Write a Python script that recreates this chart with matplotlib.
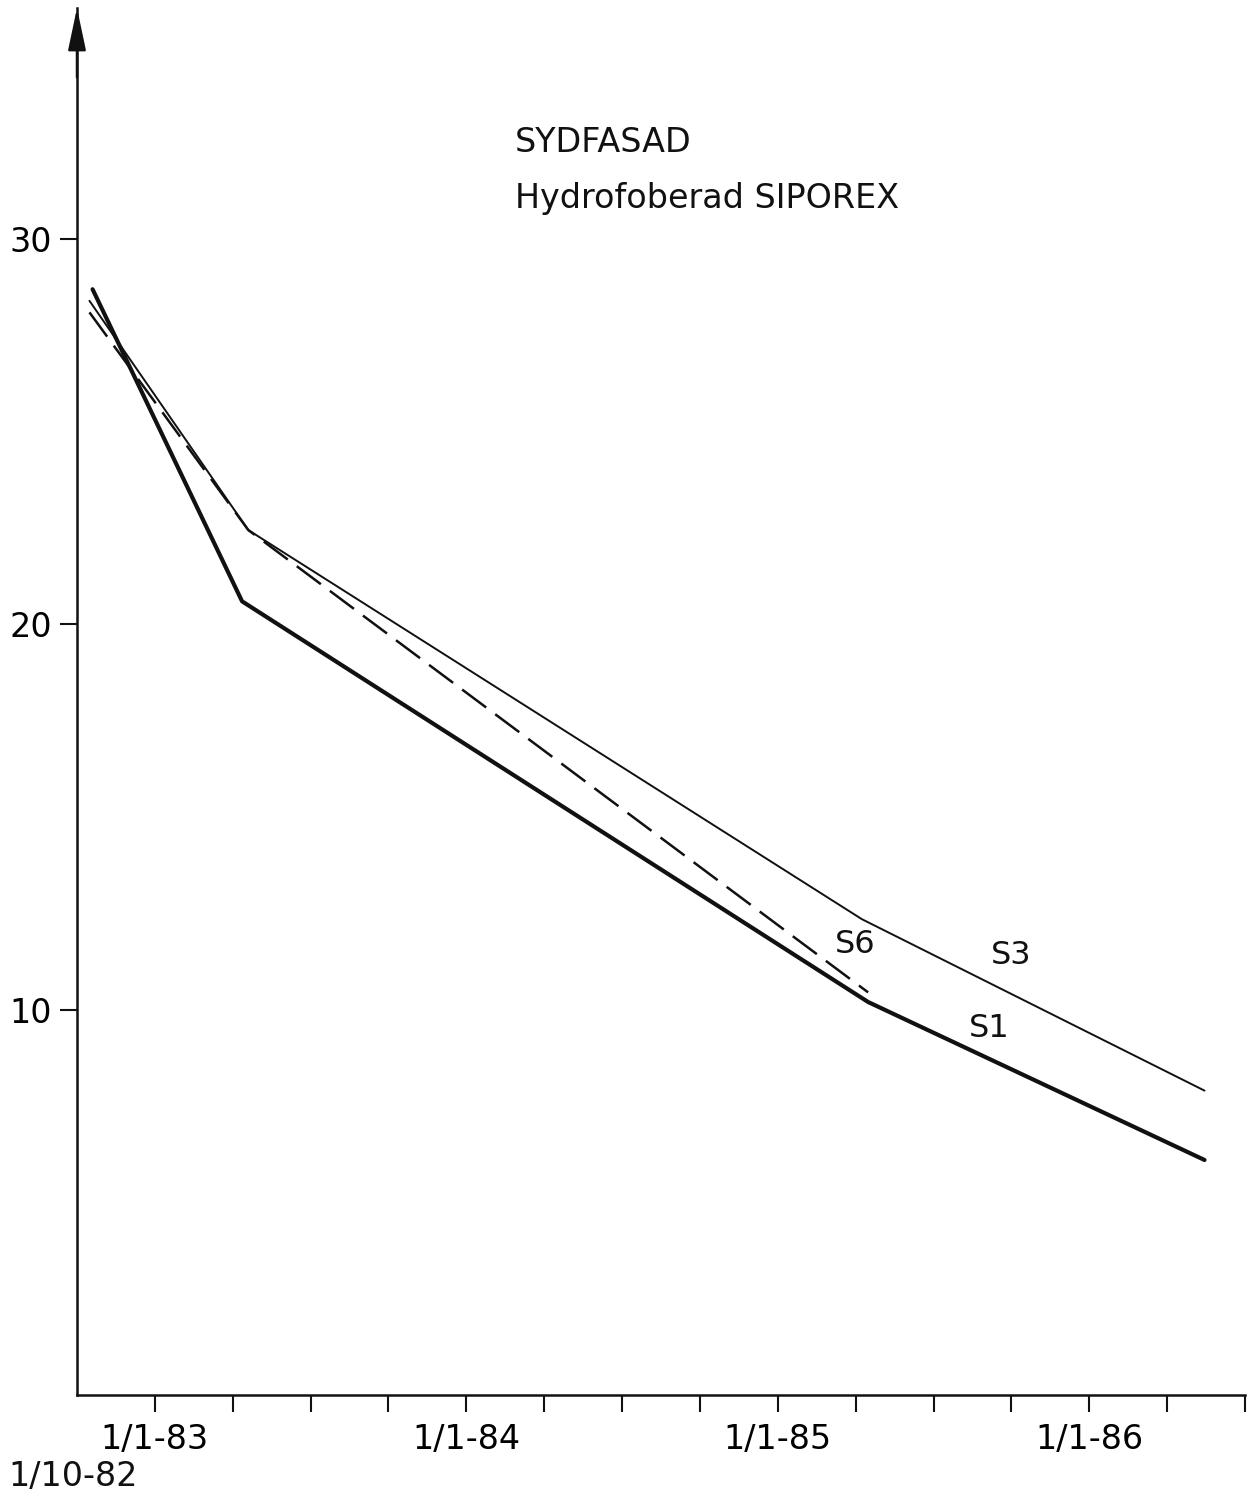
import matplotlib.pyplot as plt

# time axis in decimal years, origin 1/10-82
s1_x = [1982.80, 1983.28, 1985.29, 1986.37]
s1_y = [28.7, 20.6, 10.2, 6.1]
s3_x = [1982.79, 1983.30, 1985.27, 1986.37]
s3_y = [28.4, 22.45, 12.35, 7.9]
s6_x = [1982.79, 1983.30, 1985.29]
s6_y = [28.1, 22.45, 10.45]

year_ticks = [1983.0, 1984.0, 1985.0, 1986.0]
year_labels = ['1/1-83', '1/1-84', '1/1-85', '1/1-86']
y_ticks = [10, 20, 30]

FONT = 'DejaVu Sans'
INK = '#111111'

fig = plt.figure(figsize=(12.56, 14.95), dpi=100)
ax = fig.add_axes([77 / 1256, 100 / 1495, (1245 - 77) / 1256, (1487 - 100) / 1495])

x0, x1 = 1982.75, 1986.50
ax.set_xlim(x0, x1)
ax.set_ylim(0, 36.0)

ax.plot(s3_x, s3_y, color=INK, lw=1.4, solid_capstyle='round')
ax.plot(s1_x, s1_y, color=INK, lw=3.0, solid_capstyle='round', solid_joinstyle='round')
ax.plot(s6_x, s6_y, color=INK, lw=1.8, linestyle=(0, (12, 4.5)))

# spines
for side in ['top', 'right']:
    ax.spines[side].set_visible(False)
ax.spines['left'].set_linewidth(1.8)
ax.spines['bottom'].set_linewidth(1.8)
ax.spines['left'].set_color(INK)
ax.spines['bottom'].set_color(INK)

# arrow on y axis
ax.annotate('', xy=(0, 1.0), xytext=(0, 0.95), xycoords='axes fraction',
            arrowprops=dict(arrowstyle='-|>,head_length=2.6,head_width=0.55',
                            color=INK, lw=1.8, shrinkA=0, shrinkB=0))

# ticks
quarter_ticks = [x0 + 0.25 * i for i in range(1, 16)]
ax.set_xticks(quarter_ticks, minor=True)
ax.set_xticks(year_ticks)
ax.set_xticklabels(year_labels, family=FONT, fontsize=24)
ax.tick_params(axis='x', which='both', direction='out', length=12, width=1.5, color=INK, pad=8)
ax.set_yticks(y_ticks)
ax.set_yticklabels([str(v) for v in y_ticks], family=FONT, fontsize=24)
ax.tick_params(axis='y', direction='out', length=12, width=1.5, color=INK, pad=6)

# origin date
ax.text(-0.003, -0.047, '1/10-82', transform=ax.transAxes, ha='center', va='top',
        family=FONT, fontsize=24, color=INK)

# title
ax.text(1984.155, 32.5, 'SYDFASAD', family=FONT, fontsize=24, color=INK, va='center', ha='left')
ax.text(1984.155, 31.05, 'Hydrofoberad SIPOREX', family=FONT, fontsize=24, color=INK,
        va='center', ha='left')

# series labels
ax.text(1985.25, 11.7, 'S6', family=FONT, fontsize=23, color=INK, ha='center', va='center')
ax.text(1985.75, 11.4, 'S3', family=FONT, fontsize=23, color=INK, ha='center', va='center')
ax.text(1985.68, 9.5, 'S1', family=FONT, fontsize=23, color=INK, ha='center', va='center')

fig.savefig('out.png', dpi=100, facecolor='white')
